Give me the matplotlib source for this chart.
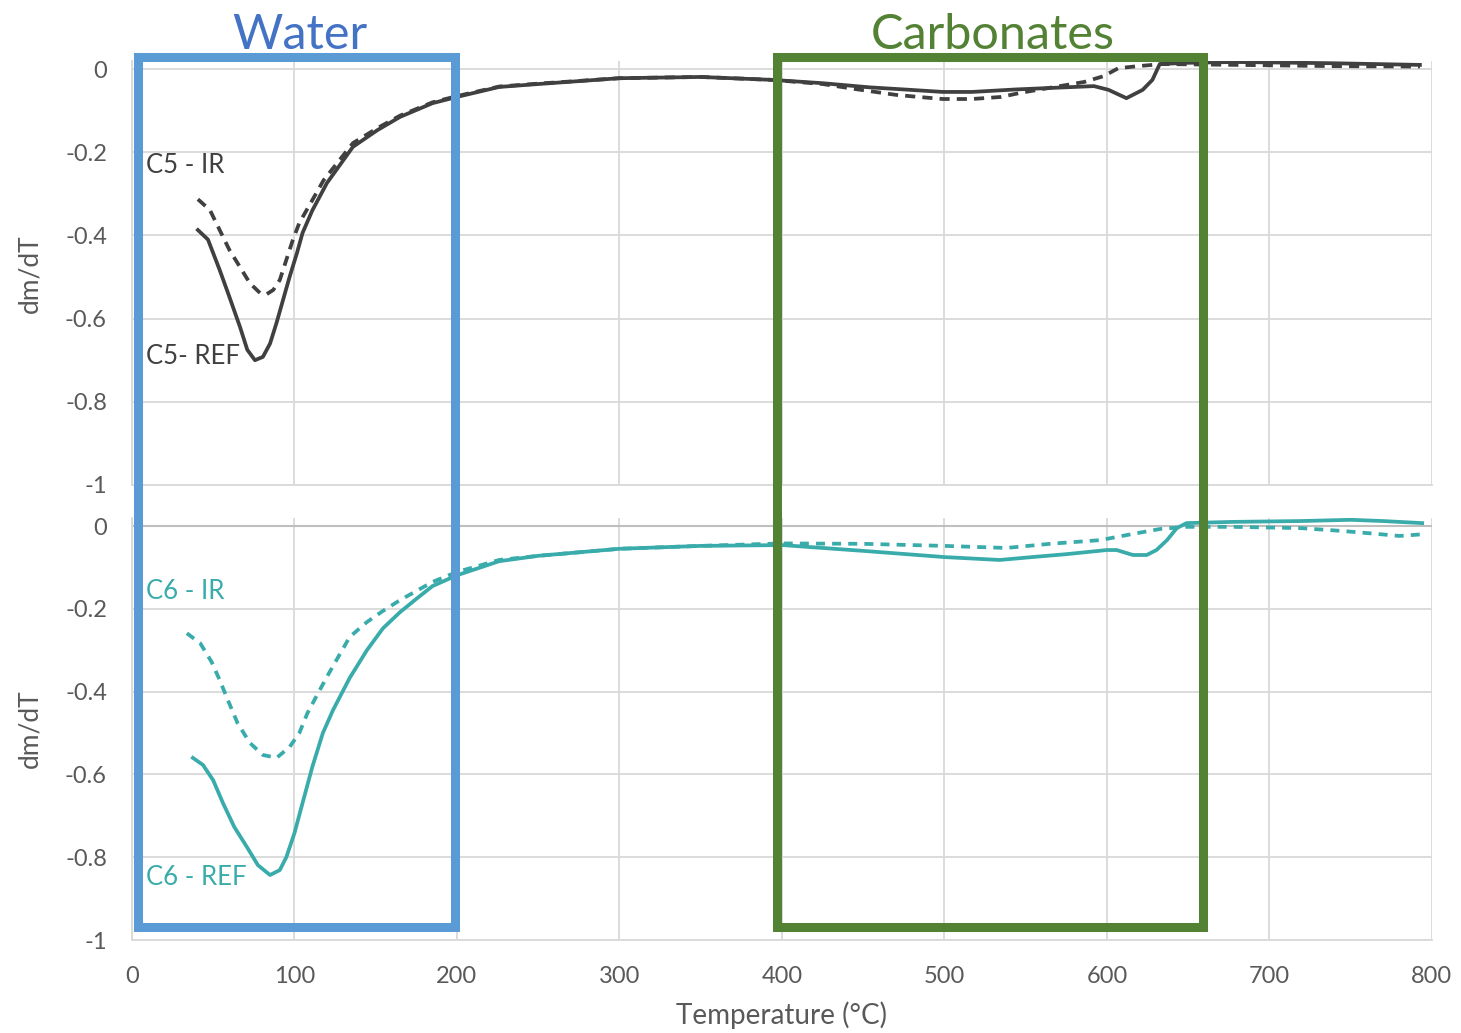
import matplotlib.pyplot as plt
from matplotlib.patches import Rectangle

plt.rcParams['font.family'] = ['Lato', 'DejaVu Sans']

# C5 (top panel)
c5_ref_t = [40.6, 46.8, 54, 60, 66.5, 71, 75.7, 80.6, 85, 89, 93, 97, 101.5, 105, 111, 120,
            136, 151, 165, 185, 200, 226, 250, 300, 350, 394, 425, 454, 475, 499, 517,
            544, 574, 592, 601, 612, 622, 628, 632.5, 649, 679, 739, 792.6]
c5_ref_v = [-0.387, -0.41, -0.483, -0.548, -0.62, -0.675, -0.70, -0.692, -0.66, -0.61, -0.555,
            -0.50, -0.443, -0.394, -0.34, -0.274, -0.187, -0.147, -0.115, -0.082,
            -0.067, -0.043, -0.036, -0.022, -0.019, -0.026, -0.034, -0.044, -0.049, -0.055,
            -0.055, -0.049, -0.044, -0.041, -0.050, -0.070, -0.050, -0.026, 0.012, 0.015,
            0.017, 0.014, 0.010]

c5_ir_t = [40.6, 48, 54, 60, 66.5, 72.6, 79, 83, 87, 91, 95, 99, 103, 110, 118, 136,
           151, 165, 185, 200, 226, 250, 300, 350, 394, 425, 445, 470, 484, 499, 517, 535,
           547, 559, 586, 598, 607, 619, 634, 680, 740, 792.6]
c5_ir_v = [-0.313, -0.339, -0.387, -0.435, -0.476, -0.515, -0.539, -0.541, -0.531, -0.507,
           -0.459, -0.411, -0.37, -0.322, -0.267, -0.178, -0.142, -0.112, -0.08,
           -0.065, -0.042, -0.035, -0.022, -0.019, -0.026, -0.036, -0.048, -0.062, -0.067,
           -0.072, -0.072, -0.067, -0.057, -0.049, -0.031, -0.017, 0.002, 0.007, 0.012,
           0.010, 0.007, 0.006]

# C6 (bottom panel)
c6_ref_t = [37.5, 43.7, 50, 56, 63, 70.7, 77.5, 85, 91, 95, 100, 105, 111, 117.5, 123.7,
            134, 144.6, 154.5, 165, 175, 185, 200, 226, 250, 300, 350, 400, 450, 500, 534,
            554, 575, 600, 606, 616, 624.5, 630.5, 637, 643, 649, 677.5, 719, 750, 770, 794]
c6_ref_v = [-0.56, -0.577, -0.614, -0.669, -0.727, -0.775, -0.819, -0.843, -0.831, -0.80,
            -0.742, -0.669, -0.582, -0.50, -0.445, -0.367, -0.30, -0.247, -0.208, -0.176,
            -0.145, -0.119, -0.085, -0.072, -0.055, -0.048, -0.046, -0.060, -0.075, -0.082,
            -0.075, -0.068, -0.058, -0.058, -0.070, -0.070, -0.058, -0.034, -0.005, 0.007,
            0.010, 0.012, 0.015, 0.012, 0.007]

c6_ir_t = [33.8, 42, 49, 54, 59, 65, 72.6, 80.6, 89, 97, 103, 108, 114.5, 120.6, 134,
           144.6, 154.5, 165, 185, 200, 226, 250, 300, 350, 400, 450, 500, 538, 565, 596,
           616, 633, 649, 677.5, 719, 745, 766, 780, 794]
c6_ir_v = [-0.259, -0.283, -0.328, -0.372, -0.42, -0.476, -0.524, -0.553, -0.56, -0.534,
           -0.50, -0.452, -0.404, -0.36, -0.268, -0.232, -0.205, -0.179, -0.135,
           -0.111, -0.082, -0.072, -0.055, -0.048, -0.042, -0.043, -0.048, -0.053, -0.043,
           -0.034, -0.019, -0.007, -0.002, -0.002, -0.005, -0.012, -0.019, -0.024, -0.020]

x_ticks = [0, 100, 200, 300, 400, 500, 600, 700, 800]
y_ticks = [-1, -0.8, -0.6, -0.4, -0.2, 0]
y_labels = ['-1', '-0.8', '-0.6', '-0.4', '-0.2', '0']

# zones (temperature ranges)
water_zone = (4, 199)
carb_zone = (397, 659)

dark = '#404040'
teal = '#3AABAB'
grid = '#D9D9D9'
txt = '#595959'

fig = plt.figure(figsize=(14.61, 10.33), dpi=100)
ax1 = fig.add_axes([0.0903, 0.5305, 0.8898, 0.4107])
ax2 = fig.add_axes([0.0903, 0.0900, 0.8898, 0.4088])

for ax in (ax1, ax2):
    ax.set_xlim(0, 800)
    ax.set_ylim(-1, 0.02)
    ax.set_xticks(x_ticks)
    ax.set_yticks(y_ticks)
    ax.set_yticklabels(y_labels)
    ax.grid(True, color=grid, linewidth=1.3)
    ax.set_axisbelow(True)
    for s in ['top', 'right']:
        ax.spines[s].set_visible(False)
    for s in ['left', 'bottom']:
        ax.spines[s].set_color(grid)
        ax.spines[s].set_linewidth(1.3)
    ax.tick_params(length=0, labelsize=17, colors=txt)
    ax.tick_params(axis='y', pad=18)
    ax.tick_params(axis='x', pad=19)

ax1.tick_params(axis='x', labelbottom=False)
ax2.axhline(0, color='#BFBFBF', linewidth=1.5, zorder=1)

lw = 2.7
ax1.plot(c5_ref_t, c5_ref_v, color=dark, linewidth=lw)
ax1.plot(c5_ir_t, c5_ir_v, color=dark, linewidth=lw, linestyle=(0, (2.7, 1.9)))
ax2.plot(c6_ref_t, c6_ref_v, color=teal, linewidth=lw)
ax2.plot(c6_ir_t, c6_ir_v, color=teal, linewidth=lw, linestyle=(0, (2.4, 1.9)))

ax1.text(8.6, -0.231, 'C5 - IR', color=dark, fontsize=18.5, va='center')
ax1.text(8.6, -0.692, 'C5- REF', color=dark, fontsize=18.5, va='center')
ax2.text(8.6, -0.159, 'C6 - IR', color=teal, fontsize=18.5, va='center')
ax2.text(8.6, -0.85, 'C6 - REF', color=teal, fontsize=18.5, va='center')

fig.text(0.0205, 0.735, 'dm/dT', rotation=90, color=txt, fontsize=19, ha='center', va='center')
fig.text(0.0205, 0.295, 'dm/dT', rotation=90, color=txt, fontsize=19, ha='center', va='center')
fig.text(0.535, 0.017, 'Temperature (°C)', color=txt, fontsize=20, ha='center', va='center')

# highlight boxes spanning both panels
inv = fig.transFigure.inverted()
def zone_box(zone, color, label, label_color):
    x0, y0 = inv.transform(ax2.transData.transform((zone[0], -0.969)))
    x1, y1 = inv.transform(ax1.transData.transform((zone[1], 0.029)))
    fig.add_artist(Rectangle((x0, y0), x1 - x0, y1 - y0, transform=fig.transFigure,
                             fill=False, edgecolor=color, linewidth=6.5, zorder=10))
    fig.text((x0 + x1) / 2 + 0.002, 0.953, label, color=label_color, fontsize=35,
             ha='center', va='baseline')

zone_box(water_zone, '#5B9BD5', 'Water', '#4472C4')
zone_box(carb_zone, '#548235', 'Carbonates', '#548235')

fig.savefig('out.png', dpi=100)
